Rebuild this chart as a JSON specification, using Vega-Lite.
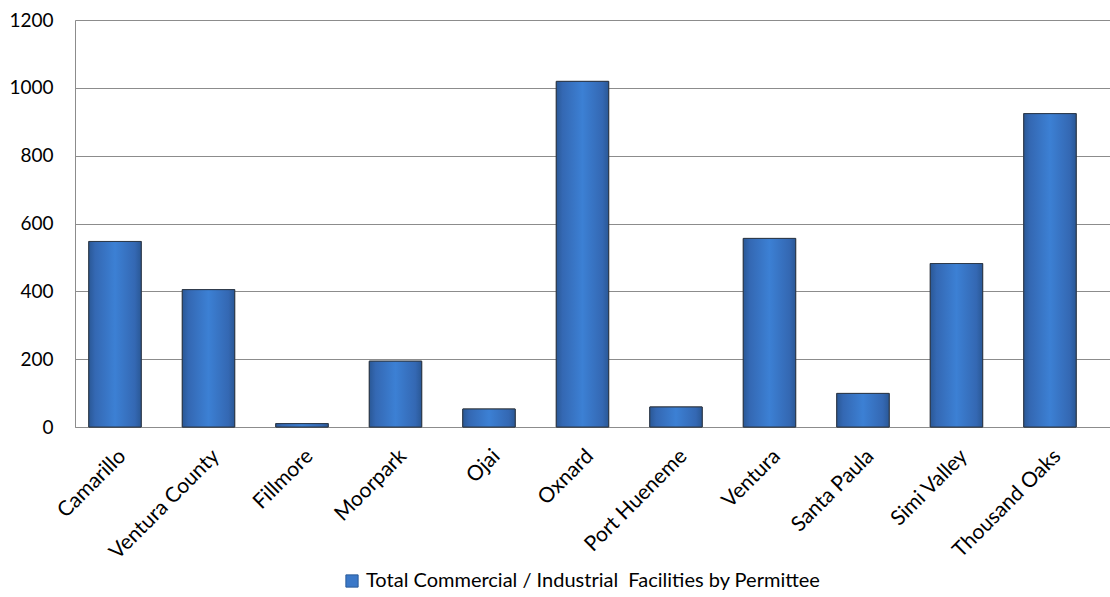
{
  "$schema": "https://vega.github.io/schema/vega-lite/v6.json",
  "width": 1035,
  "height": 407,
  "autosize": "none",
  "padding": {"left": 75, "top": 20, "right": 0, "bottom": 170},
  "background": "white",
  "data": {
    "values": [
      {"permittee": "Camarillo", "count": 547, "series": "Total Commercial / Industrial\u00a0 Facilities by Permittee"},
      {"permittee": "Ventura County", "count": 405, "series": "Total Commercial / Industrial\u00a0 Facilities by Permittee"},
      {"permittee": "Fillmore", "count": 10, "series": "Total Commercial / Industrial\u00a0 Facilities by Permittee"},
      {"permittee": "Moorpark", "count": 194, "series": "Total Commercial / Industrial\u00a0 Facilities by Permittee"},
      {"permittee": "Ojai", "count": 53, "series": "Total Commercial / Industrial\u00a0 Facilities by Permittee"},
      {"permittee": "Oxnard", "count": 1019, "series": "Total Commercial / Industrial\u00a0 Facilities by Permittee"},
      {"permittee": "Port Hueneme", "count": 59, "series": "Total Commercial / Industrial\u00a0 Facilities by Permittee"},
      {"permittee": "Ventura", "count": 556, "series": "Total Commercial / Industrial\u00a0 Facilities by Permittee"},
      {"permittee": "Santa Paula", "count": 99, "series": "Total Commercial / Industrial\u00a0 Facilities by Permittee"},
      {"permittee": "Simi Valley", "count": 482, "series": "Total Commercial / Industrial\u00a0 Facilities by Permittee"},
      {"permittee": "Thousand Oaks", "count": 924, "series": "Total Commercial / Industrial\u00a0 Facilities by Permittee"}
    ]
  },
  "encoding": {
    "x": {
      "field": "permittee",
      "type": "nominal",
      "sort": null,
      "scale": {"paddingInner": 0.44, "paddingOuter": 0.255, "align": 0.29},
      "axis": {
        "title": null,
        "labelAngle": -45,
        "labelFont": "Lato",
        "labelFontSize": 21,
        "labelColor": "#000000",
        "labelPadding": 18,
        "labelDx": 6,
        "ticks": false,
        "domainColor": "#8c8c8c",
        "labelOverlap": false,
        "labelLimit": 300
      }
    },
    "y": {
      "field": "count",
      "type": "quantitative",
      "scale": {"domain": [0, 1200], "nice": false},
      "axis": {
        "title": null,
        "values": [0, 200, 400, 600, 800, 1000, 1200],
        "format": "d",
        "labelFont": "Lato",
        "labelFontSize": 19,
        "labelColor": "#000000",
        "labelPadding": 22,
        "ticks": false,
        "domainColor": "#8c8c8c",
        "gridColor": "#8c8c8c",
        "gridWidth": 1.2
      }
    }
  },
  "layer": [
    {
      "mark": {"type": "bar", "stroke": "#3a3a3a", "strokeWidth": 1},
      "encoding": {
        "color": {
          "field": "series",
          "type": "nominal",
          "scale": {"range": ["#3b78c8"]},
          "legend": {
            "title": null,
            "orient": "none",
            "legendX": 267,
            "legendY": 551,
            "symbolType": "square",
            "symbolSize": 150,
            "symbolStrokeColor": "#2a5a99",
            "symbolStrokeWidth": 1,
            "labelFont": "Lato",
            "labelFontSize": 20,
            "labelColor": "#000000",
            "labelLimit": 700,
            "labelOffset": 4
          }
        }
      }
    },
    {
      "mark": {
        "type": "bar",
        "stroke": "#2e3a4a",
        "strokeWidth": 1,
        "fill": {
          "gradient": "linear",
          "x1": 0, "y1": 0, "x2": 1, "y2": 0,
          "stops": [
            {"offset": 0, "color": "#2a5896"},
            {"offset": 0.12, "color": "#3468b3"},
            {"offset": 0.5, "color": "#3c80d4"},
            {"offset": 0.88, "color": "#3468b3"},
            {"offset": 1, "color": "#2a5896"}
          ]
        }
      }
    }
  ]
}
